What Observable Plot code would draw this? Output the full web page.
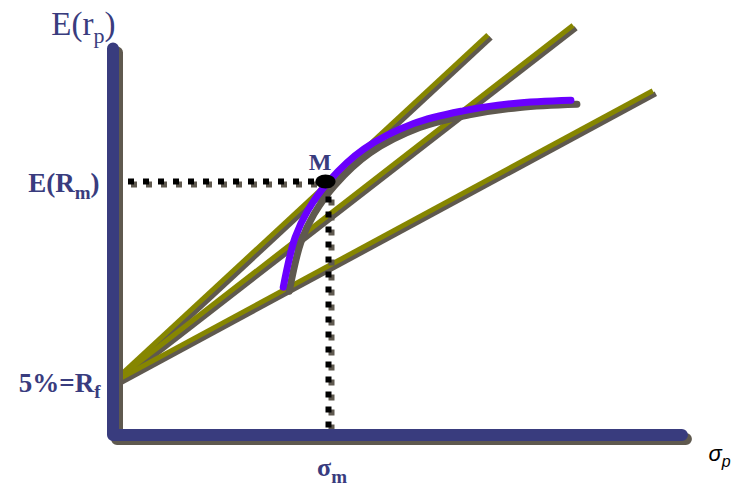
<!DOCTYPE html>
<html>
<head>
<meta charset="utf-8">
<script src="https://cdn.jsdelivr.net/npm/d3@7"></script>
<script src="https://cdn.jsdelivr.net/npm/@observablehq/plot@0.6"></script>
<style>
  html, body { margin: 0; padding: 0; background: #ffffff; }
  #chart svg { display: block; }
</style>
</head>
<body>
<div id="chart"></div>
<script>
// Capital market line diagram: risk-free rate, three capital allocation
// lines, the efficient frontier and the market portfolio M.

const riskFree = 5;                       // R_f, percent
const marketSigma = 20;                   // σ_m
const marketReturn = 24;                  // E(R_m)

// Capital allocation lines, all starting at (0, R_f)
const calEndSigma = [34.8, 42.7, 50.1];
const calEndReturn = [37.9, 38.8, 32.6];

// Efficient frontier (risky assets)
const frontierSigma = [15.8, 16.9, 18.1, 20.0, 23.3, 27.9, 32.5, 37.2, 42.5];
const frontierReturn = [14.0, 18.7, 21.3, 24.0, 27.1, 29.5, 30.7, 31.4, 31.7];

// Axis extents
const axisTopReturn = 36.6;
const axisEndSigma = 52.8;

// Axis labels
const labelTexts = ["E(r_p)", "E(R_m)", "5%=R_f", "σ_m", "σ_p", "M"];

const navy = "#393c7e";
const olive = "#868600";
const violet = "#6a00ff";
const shade = "#5f594f";

const calRows = calEndSigma.flatMap((s, i) => [
  {id: i, sigma: 0, ret: riskFree},
  {id: i, sigma: s, ret: calEndReturn[i]}
]);
const frontier = frontierSigma.map((s, i) => ({sigma: s, ret: frontierReturn[i]}));
const axisPath = [
  {sigma: 0, ret: axisTopReturn},
  {sigma: 0, ret: 0},
  {sigma: axisEndSigma, ret: 0}
];
const hGuide = [{sigma: 0, ret: marketReturn}, {sigma: marketSigma, ret: marketReturn}];
const vGuide = [{sigma: marketSigma, ret: marketReturn}, {sigma: marketSigma, ret: 0}];

// Ellipse symbol for the market portfolio point
const ellipseSymbol = {
  draw(context) {
    const rx = 10, ry = 7, k = 0.5523;
    context.moveTo(rx, 0);
    context.bezierCurveTo(rx, ry * k, rx * k, ry, 0, ry);
    context.bezierCurveTo(-rx * k, ry, -rx, ry * k, -rx, 0);
    context.bezierCurveTo(-rx, -ry * k, -rx * k, -ry, 0, -ry);
    context.bezierCurveTo(rx * k, -ry, rx, -ry * k, rx, 0);
    context.closePath();
  }
};

const serif = "'Liberation Serif', 'Times New Roman', serif";
const sans = "'Liberation Sans', Arial, sans-serif";

const guideStyle = {x: "sigma", y: "ret", strokeWidth: 6, strokeDasharray: "6,9", strokeLinecap: "butt"};

const chart = Plot.plot({
  width: 743,
  height: 487,
  margin: 0,
  x: {domain: [0, 58], range: [112.5, 112.5 + 58 * 10.775], axis: null},
  y: {domain: [0, 40], range: [434.5, 434.5 - 40 * 10.56], axis: null},
  marks: [
    // capital allocation lines with their drop shadows
    Plot.line(calRows, {x: "sigma", y: "ret", z: "id", stroke: shade, strokeWidth: 5, strokeLinecap: "butt", dx: 3, dy: 3}),
    Plot.line(calRows, {x: "sigma", y: "ret", z: "id", stroke: olive, strokeWidth: 5, strokeLinecap: "butt"}),
    // efficient frontier
    Plot.line(frontier, {x: "sigma", y: "ret", curve: "catmull-rom", stroke: shade, strokeWidth: 7, strokeLinecap: "round", dx: 6, dy: 4}),
    Plot.line(frontier, {x: "sigma", y: "ret", curve: "catmull-rom", stroke: violet, strokeWidth: 7, strokeLinecap: "round"}),
    // dotted guides to the market portfolio
    Plot.line(hGuide, {...guideStyle, stroke: shade, dx: 3, dy: 3}),
    Plot.line(vGuide, {...guideStyle, stroke: shade, dx: 3, dy: 3}),
    Plot.line(hGuide, {...guideStyle, stroke: "#000000"}),
    Plot.line(vGuide, {...guideStyle, stroke: "#000000"}),
    // axes
    Plot.line(axisPath, {x: "sigma", y: "ret", stroke: shade, strokeWidth: 12, strokeLinecap: "round", strokeLinejoin: "round", dx: 4, dy: 4}),
    Plot.line(axisPath, {x: "sigma", y: "ret", stroke: navy, strokeWidth: 12, strokeLinecap: "round", strokeLinejoin: "round"}),
    // market portfolio
    Plot.dot([{sigma: marketSigma, ret: marketReturn}], {x: "sigma", y: "ret", r: 10, symbol: ellipseSymbol, fill: "#000000", stroke: "none", dx: -3}),
    // labels
    Plot.text([{sigma: 0, ret: axisTopReturn}], {x: "sigma", y: "ret", text: () => labelTexts[0], textAnchor: "end", dx: 2.5, dy: -24, fontFamily: serif, fontSize: 33, fill: navy}),
    Plot.text([{sigma: 0, ret: marketReturn}], {x: "sigma", y: "ret", text: () => labelTexts[1], textAnchor: "end", dx: -13.5, dy: 1.5, fontFamily: serif, fontWeight: "bold", fontSize: 27, fill: navy}),
    Plot.text([{sigma: 0, ret: riskFree}], {x: "sigma", y: "ret", text: () => labelTexts[2], textAnchor: "end", dx: -12.5, dy: 1, fontFamily: serif, fontWeight: "bold", fontSize: 27, fill: navy}),
    Plot.text([{sigma: marketSigma, ret: 0}], {x: "sigma", y: "ret", text: () => labelTexts[3], textAnchor: "middle", dx: 3.5, dy: 33, fontFamily: serif, fontWeight: "bold", fontSize: 26, fill: navy}),
    Plot.text([{sigma: axisEndSigma, ret: 0}], {x: "sigma", y: "ret", text: () => labelTexts[4], textAnchor: "start", dx: 26.6, dy: 18.5, fontFamily: sans, fontStyle: "italic", fontSize: 22, fill: "#000000"}),
    Plot.text([{sigma: marketSigma, ret: marketReturn}], {x: "sigma", y: "ret", text: () => labelTexts[5], textAnchor: "middle", dx: -8.5, dy: -18.8, fontFamily: serif, fontWeight: "bold", fontSize: 24, fill: navy})
  ]
});

// Turn "_x" in label strings into lowered, smaller subscript tspans
const subStyle = {
  "E(r_p)": {size: 22, shift: 8},
  "E(R_m)": {size: 19, shift: 7},
  "5%=R_f": {size: 19, shift: 6},
  "σ_m": {size: 19, shift: 7},
  "σ_p": {size: 16, shift: 6}
};
const SVGNS = "http://www.w3.org/2000/svg";
chart.querySelectorAll("text").forEach((t) => {
  const s = t.textContent;
  const m = s.match(/^(.*)_(.)(.*)$/);
  if (!m) return;
  const st = subStyle[s] || {size: 16, shift: 6};
  t.textContent = "";
  const base = document.createElementNS(SVGNS, "tspan");
  base.textContent = m[1];
  const sub = document.createElementNS(SVGNS, "tspan");
  sub.textContent = m[2];
  sub.setAttribute("font-size", st.size);
  sub.setAttribute("dy", st.shift);
  t.appendChild(base);
  t.appendChild(sub);
  if (m[3]) {
    const rest = document.createElementNS(SVGNS, "tspan");
    rest.textContent = m[3];
    rest.setAttribute("dy", -st.shift);
    t.appendChild(rest);
  }
});

document.getElementById("chart").appendChild(chart);
</script>
</body>
</html>
